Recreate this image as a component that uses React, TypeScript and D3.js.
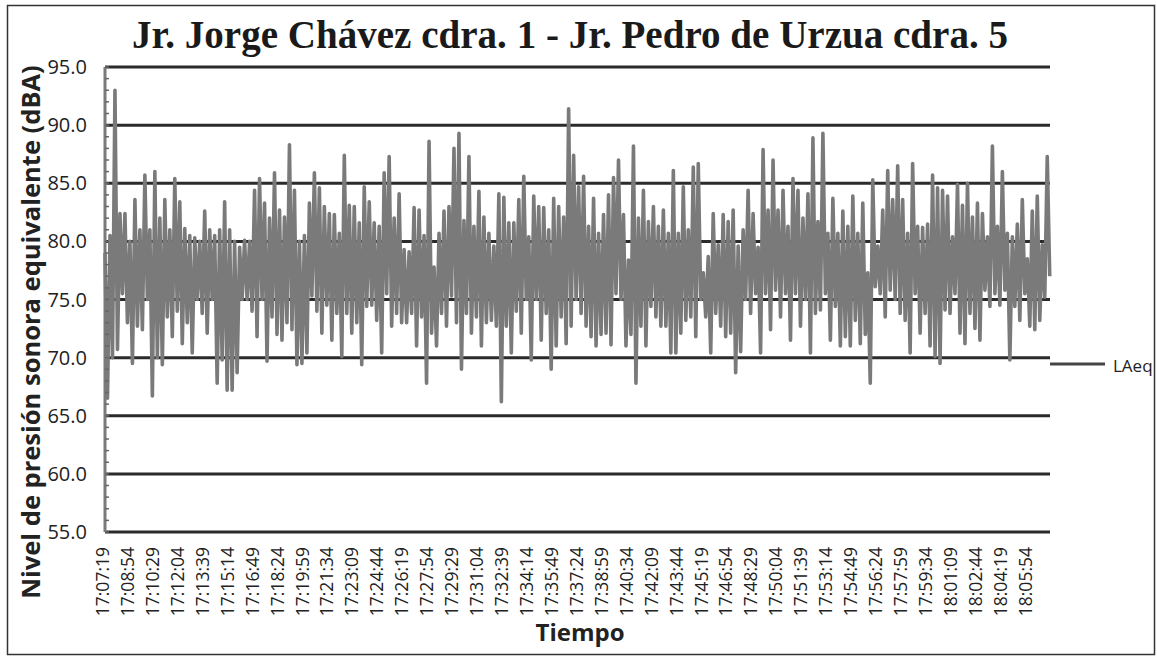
import * as d3 from 'd3';

// LAeq readings (dBA), in time order: alternating peak / trough
const laeq = [
  79, 66.5, 80.5, 70, 93, 70.7, 82.4, 75.5, 82.4, 73, 80, 69.5, 83.6, 72.7, 81, 72.4, 85.7, 75, 81, 66.7,
  86, 70, 82, 69.4, 83.6, 73.5, 81, 71.8, 85.4, 74, 83.4, 71.2, 81.1, 73, 80.5, 70.4, 80.3, 75, 80, 73.8,
  82.6, 72.1, 81, 75, 80.5, 67.8, 81, 69.8, 83.4, 67.2, 81, 67.2, 80, 68.7, 79.5, 75, 80.1, 75, 80, 74,
  84.4, 71.8, 85.4, 75, 83.3, 69.7, 82, 73.5, 85.9, 72, 82.7, 71.5, 82.1, 73, 88.3, 72.4, 84.4, 69.4,
  80, 69.5, 80.5, 70.4, 83.3, 75.3, 85.9, 74, 84.6, 72.1, 83, 74.5, 82.4, 71.5, 82.3, 73.8, 80.7, 70.1,
  87.4, 73.8, 83.1, 72.1, 83, 73, 81.6, 69.4, 84.7, 74.4, 83.4, 74.5, 81.6, 73.2, 81.3, 70.4, 85.9, 75.5,
  87.3, 72.7, 82, 73.8, 84.1, 73, 79.3, 73, 79.1, 73.8, 82.9, 71, 82.7, 73.5, 80.5, 67.8, 88.6, 72.1,
  77.8, 71, 80.7, 73.8, 82.6, 72.7, 83, 75.3, 88, 73, 89.3, 69, 81.8, 73.8, 87.3, 72.1, 81.3, 73.5,
  84.3, 71, 82.1, 73, 80.7, 73.2, 79.6, 72.7,
  84.1, 66.2, 83.8, 72.7, 81.6, 70.4, 81.6, 74, 83.6, 72.1, 85.6, 75, 80.4, 69.8, 83.9, 75, 83, 71.5,
  82.9, 73.8, 81, 69, 83.7, 71, 83, 73.5, 82.1, 71.2, 91.4, 72.7, 87.4, 75, 84.7, 73.8, 85.6, 72.7,
  81.3, 71.8, 83.7, 71, 80.7, 72, 82.3, 72.1, 84, 71.1, 85.5, 75.5, 87, 75, 82.3, 71, 78.4, 72,
  88.2, 67.8, 82, 72.7, 84.4, 71, 81.7, 74.4, 83, 73.5, 81.3, 72.7, 82.7, 72.7, 80.7, 70.4, 86.1, 70.4,
  80.7, 72.1, 84.7, 73.2, 81, 73.5, 86.4, 71.8,
  86.7, 75, 77.3, 73.5, 78.7, 70.4, 82.4, 73.8, 79.7, 72.7, 82.3, 71.8, 81.7, 72.1, 82.7, 68.7, 79.6, 70.5,
  81, 75, 84.4, 73.8, 82.4, 75.5, 79.5, 70.4, 87.9, 75.5, 82.7, 72.4, 87, 75.8, 82.7, 73.5, 84.4, 75.5,
  81.3, 71.5, 85.4, 75.5, 84.4, 72.7, 82, 75, 84.1, 70.4, 88.9, 73.8, 81.7, 74.1, 89.3, 75.5, 80.7, 71.5,
  83.7, 74.4, 80.7, 71, 82.6, 71.8, 81.3, 71, 83.9, 73.2, 80.7, 71.2, 83.3, 72, 77.3, 67.8, 85.3, 76.1,
  79.6, 75.5, 82.7, 73.5, 86.1, 75.8, 83.6, 75,
  86.5, 73.8, 83.6, 73.2, 80.7, 70.4, 86.7, 75.5, 81.3, 72.1, 81.2, 73.8, 81.5, 71, 85.7, 70.1, 84.6, 69.5,
  84.4, 74.1, 83.9, 73.8, 80.4, 75.5, 84.9, 72.1, 83.1, 71.2, 85, 73.8, 82.1, 72.5, 83.3, 71.5, 82.4, 75.8,
  80.4, 74.4, 88.2, 75.5, 81.3, 74.5, 86, 75.8, 80.7, 69.8, 80.4, 74.4, 81.5, 73.2, 83.6, 75.5, 78.5, 72.7,
  82.6, 72.4, 83.9, 73.2, 79.7, 75.2, 87.3, 77,
];

// category labels on the time axis, one every 95 s
const timeLabels = [
  '17:07:19', '17:08:54', '17:10:29', '17:12:04', '17:13:39', '17:15:14', '17:16:49', '17:18:24',
  '17:19:59', '17:21:34', '17:23:09', '17:24:44', '17:26:19', '17:27:54', '17:29:29', '17:31:04',
  '17:32:39', '17:34:14', '17:35:49', '17:37:24', '17:38:59', '17:40:34', '17:42:09', '17:43:44',
  '17:45:19', '17:46:54', '17:48:29', '17:50:04', '17:51:39', '17:53:14', '17:54:49', '17:56:24',
  '17:57:59', '17:59:34', '18:01:09', '18:02:44', '18:04:19', '18:05:54',
];
const labelStep = 95; // seconds between labels
const duration = 3600; // seconds recorded

const yTicks = [55, 60, 65, 70, 75, 80, 85, 90, 95];

const title = 'Jr. Jorge Chávez cdra. 1 - Jr. Pedro de Urzua cdra. 5';
const yTitle = 'Nivel de presión sonora equivalente (dBA)';
const xTitle = 'Tiempo';
const seriesName = 'LAeq';

const W = 1157;
const H = 657;
const plot = { left: 105, right: 1050, top: 67, bottom: 532 };
const font = "'Open Sans', 'Liberation Sans', sans-serif";

export default function App() {
  const x = d3.scaleLinear().domain([0, duration]).range([plot.left, plot.right]);
  const y = d3.scaleLinear().domain([55, 95]).range([plot.bottom, plot.top]);

  const step = (duration - 1) / (laeq.length - 1);
  const line = d3.line<number>()
    .x((_, i) => x(i * step))
    .y(d => y(d));

  const minor = d3.range(55, 96, 1);

  return (
    <svg width={W} height={H} style={{ position: 'absolute', left: 0, top: 0, background: '#fff' }}>
      <rect x={7.5} y={5.5} width={1147} height={649} fill="#fff" stroke="#333" strokeWidth={1.5} />

      <text x={570} y={48} textAnchor="middle" fontFamily="'Liberation Serif', serif" fontWeight="bold"
        fontSize={39} textLength={876} lengthAdjust="spacingAndGlyphs" fill="#1a1a1a">{title}</text>

      {/* gridlines */}
      {yTicks.map(t => (
        <line key={t} x1={plot.left} x2={plot.right} y1={y(t)} y2={y(t)} stroke="#2b2b2b" strokeWidth={3} />
      ))}

      {/* series */}
      <path d={line(laeq) ?? ''} fill="none" stroke="#7a7a7a" strokeWidth={3.6} strokeLinejoin="round" />

      {/* y axis */}
      <line x1={plot.left} x2={plot.left} y1={plot.top} y2={plot.bottom} stroke="#7a7a7a" strokeWidth={3} />
      {minor.map(t => (
        <line key={t} x1={plot.left} x2={plot.left + 4} y1={y(t)} y2={y(t)} stroke="#666" strokeWidth={1.5} />
      ))}
      {yTicks.map(t => (
        <text key={t} x={87} y={y(t)} dy="0.35em" textAnchor="end" fontFamily={font} fontSize={20} fill="#222">
          {t.toFixed(1)}
        </text>
      ))}

      {/* x labels */}
      {timeLabels.map((lab, i) => {
        const px = x(i * labelStep) + 4;
        return (
          <text key={lab} transform={`translate(${px},547) rotate(-90)`} textAnchor="end"
            fontFamily={font} fontSize={17.5} fill="#222">{lab}</text>
        );
      })}

      <text transform="translate(40,332) rotate(-90)" textAnchor="middle" fontFamily={font}
        fontWeight="bold" fontSize={25.5} fill="#222">{yTitle}</text>
      <text x={580} y={641} textAnchor="middle" fontFamily={font} fontWeight="bold" fontSize={24} fill="#222">
        {xTitle}
      </text>

      {/* legend */}
      <line x1={1050} x2={1105} y1={364} y2={364} stroke="#444" strokeWidth={3} />
      <text x={1113} y={372} fontFamily={font} fontSize={17} fill="#222">{seriesName}</text>
    </svg>
  );
}
